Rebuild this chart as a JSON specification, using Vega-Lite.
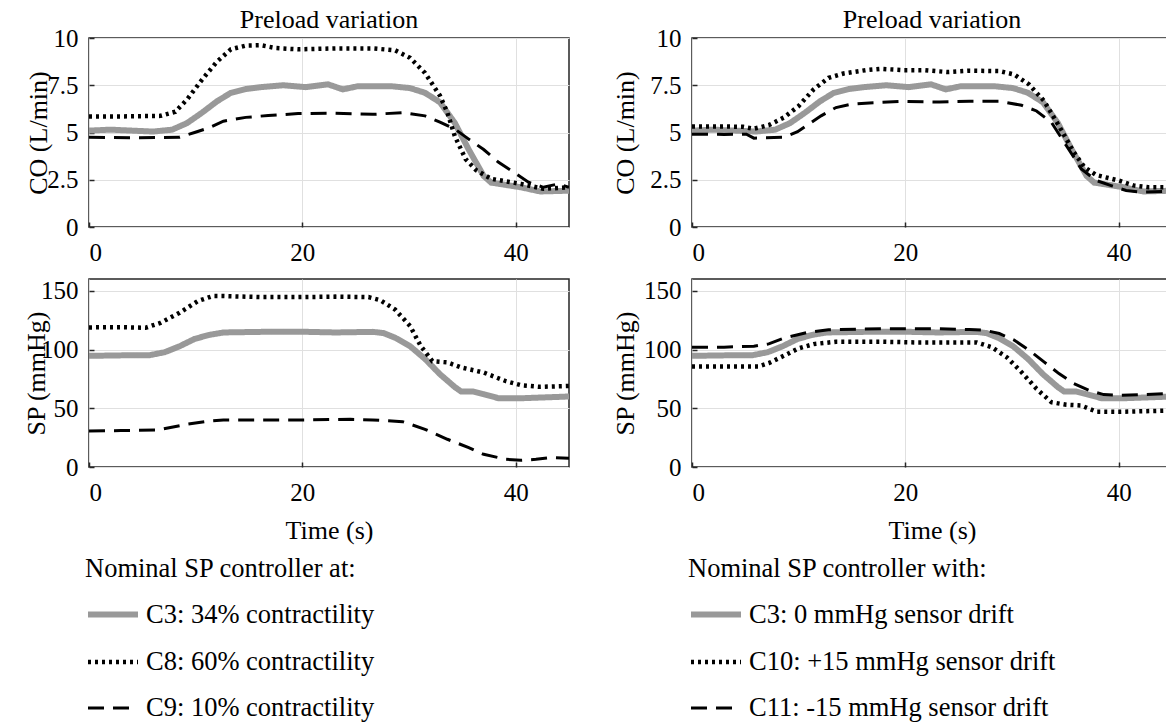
{
  "$schema": "https://vega.github.io/schema/vega-lite/v6.json",
  "autosize": {"type": "pad"},
  "padding": {"left": 22, "top": 6, "right": -7, "bottom": 0},
  "background": "white",
  "config": {
    "font": "Liberation Serif",
    "view": {"stroke": "#262626", "strokeWidth": 1.5},
    "axis": {
      "labelFont": "Liberation Serif", "labelFontSize": 25, "labelColor": "#000000",
      "titleFont": "Liberation Serif", "titleFontSize": 26, "titleFontWeight": "normal", "titleColor": "#000000",
      "domain": false, "tickColor": "#262626", "tickSize": -5, "tickWidth": 1.5,
      "grid": true, "gridColor": "#e0e0e0", "gridWidth": 1, "gridOpacity": 1
    },
    "axisX": {"labelPadding": 18, "labelAngle": 0, "titlePadding": 12},
    "axisY": {"labelPadding": 16},
    "title": {"font": "Liberation Serif", "fontSize": 26, "fontWeight": "normal", "color": "#000000", "offset": -7, "anchor": "middle"},
    "legend": {
      "titleFont": "Liberation Serif", "titleFontSize": 26.5, "titleFontWeight": "normal", "titleColor": "#000000", "titleLimit": 0,
      "labelFont": "Liberation Serif", "labelFontSize": 26.5, "labelColor": "#000000", "labelLimit": 0,
      "padding": 0, "symbolOffset": 0
    }
  },
  "datasets": {
    "coL": [
      {"s": "C3: 34% contractility", "t": 0, "v": 5.1}, {"s": "C3: 34% contractility", "t": 2, "v": 5.15}, {"s": "C3: 34% contractility", "t": 4, "v": 5.1}, {"s": "C3: 34% contractility", "t": 6, "v": 5.05}, {"s": "C3: 34% contractility", "t": 7.8, "v": 5.15}, {"s": "C3: 34% contractility", "t": 9.2, "v": 5.5}, {"s": "C3: 34% contractility", "t": 10.6, "v": 6.05}, {"s": "C3: 34% contractility", "t": 12, "v": 6.65}, {"s": "C3: 34% contractility", "t": 13.3, "v": 7.1}, {"s": "C3: 34% contractility", "t": 14.7, "v": 7.3}, {"s": "C3: 34% contractility", "t": 16.1, "v": 7.4}, {"s": "C3: 34% contractility", "t": 18.2, "v": 7.5}, {"s": "C3: 34% contractility", "t": 20.3, "v": 7.4}, {"s": "C3: 34% contractility", "t": 22.4, "v": 7.55}, {"s": "C3: 34% contractility", "t": 23.8, "v": 7.28}, {"s": "C3: 34% contractility", "t": 25.2, "v": 7.45}, {"s": "C3: 34% contractility", "t": 28.3, "v": 7.45}, {"s": "C3: 34% contractility", "t": 30.1, "v": 7.35}, {"s": "C3: 34% contractility", "t": 31.5, "v": 7.1}, {"s": "C3: 34% contractility", "t": 32.9, "v": 6.6}, {"s": "C3: 34% contractility", "t": 34.3, "v": 5.5}, {"s": "C3: 34% contractility", "t": 35.6, "v": 4.1}, {"s": "C3: 34% contractility", "t": 37, "v": 2.7}, {"s": "C3: 34% contractility", "t": 37.7, "v": 2.35}, {"s": "C3: 34% contractility", "t": 40.5, "v": 2.1}, {"s": "C3: 34% contractility", "t": 42.3, "v": 1.88}, {"s": "C3: 34% contractility", "t": 45, "v": 1.92},
      {"s": "C8: 60% contractility", "t": 0, "v": 5.85}, {"s": "C8: 60% contractility", "t": 3, "v": 5.85}, {"s": "C8: 60% contractility", "t": 6.7, "v": 5.88}, {"s": "C8: 60% contractility", "t": 8.1, "v": 6.1}, {"s": "C8: 60% contractility", "t": 9.2, "v": 6.75}, {"s": "C8: 60% contractility", "t": 10.6, "v": 7.8}, {"s": "C8: 60% contractility", "t": 12, "v": 8.75}, {"s": "C8: 60% contractility", "t": 13.3, "v": 9.4}, {"s": "C8: 60% contractility", "t": 14.7, "v": 9.6}, {"s": "C8: 60% contractility", "t": 16.1, "v": 9.62}, {"s": "C8: 60% contractility", "t": 17.5, "v": 9.47}, {"s": "C8: 60% contractility", "t": 19.6, "v": 9.4}, {"s": "C8: 60% contractility", "t": 23.1, "v": 9.45}, {"s": "C8: 60% contractility", "t": 26.6, "v": 9.45}, {"s": "C8: 60% contractility", "t": 28.7, "v": 9.35}, {"s": "C8: 60% contractility", "t": 30.1, "v": 8.95}, {"s": "C8: 60% contractility", "t": 31.5, "v": 8.15}, {"s": "C8: 60% contractility", "t": 32.9, "v": 6.95}, {"s": "C8: 60% contractility", "t": 33.6, "v": 6.05}, {"s": "C8: 60% contractility", "t": 34.3, "v": 4.8}, {"s": "C8: 60% contractility", "t": 35.3, "v": 3.6}, {"s": "C8: 60% contractility", "t": 36.3, "v": 3.0}, {"s": "C8: 60% contractility", "t": 37.7, "v": 2.55}, {"s": "C8: 60% contractility", "t": 40.5, "v": 2.28}, {"s": "C8: 60% contractility", "t": 42.6, "v": 2.02}, {"s": "C8: 60% contractility", "t": 45, "v": 2.1},
      {"s": "C9: 10% contractility", "t": 0, "v": 4.75}, {"s": "C9: 10% contractility", "t": 4, "v": 4.72}, {"s": "C9: 10% contractility", "t": 8.5, "v": 4.75}, {"s": "C9: 10% contractility", "t": 9.9, "v": 5.0}, {"s": "C9: 10% contractility", "t": 11.3, "v": 5.26}, {"s": "C9: 10% contractility", "t": 12.6, "v": 5.6}, {"s": "C9: 10% contractility", "t": 14.7, "v": 5.8}, {"s": "C9: 10% contractility", "t": 16.8, "v": 5.9}, {"s": "C9: 10% contractility", "t": 19.6, "v": 6.0}, {"s": "C9: 10% contractility", "t": 23.1, "v": 6.02}, {"s": "C9: 10% contractility", "t": 26.6, "v": 5.96}, {"s": "C9: 10% contractility", "t": 29.4, "v": 6.05}, {"s": "C9: 10% contractility", "t": 31.5, "v": 5.88}, {"s": "C9: 10% contractility", "t": 32.9, "v": 5.55}, {"s": "C9: 10% contractility", "t": 34.3, "v": 5.18}, {"s": "C9: 10% contractility", "t": 35.6, "v": 4.65}, {"s": "C9: 10% contractility", "t": 37, "v": 4.1}, {"s": "C9: 10% contractility", "t": 38.4, "v": 3.42}, {"s": "C9: 10% contractility", "t": 39.8, "v": 2.9}, {"s": "C9: 10% contractility", "t": 41.2, "v": 2.37}, {"s": "C9: 10% contractility", "t": 42.6, "v": 2.1}, {"s": "C9: 10% contractility", "t": 44, "v": 2.28}, {"s": "C9: 10% contractility", "t": 45, "v": 2.1}
    ],
    "spL": [
      {"s": "C3: 34% contractility", "t": 0, "v": 94.6}, {"s": "C3: 34% contractility", "t": 3, "v": 95}, {"s": "C3: 34% contractility", "t": 5.7, "v": 95.2}, {"s": "C3: 34% contractility", "t": 7.1, "v": 97.7}, {"s": "C3: 34% contractility", "t": 8.5, "v": 102.8}, {"s": "C3: 34% contractility", "t": 9.9, "v": 109}, {"s": "C3: 34% contractility", "t": 11.3, "v": 112.5}, {"s": "C3: 34% contractility", "t": 12.6, "v": 114.5}, {"s": "C3: 34% contractility", "t": 16.1, "v": 115}, {"s": "C3: 34% contractility", "t": 19.6, "v": 115.2}, {"s": "C3: 34% contractility", "t": 23.1, "v": 114.5}, {"s": "C3: 34% contractility", "t": 26.6, "v": 115}, {"s": "C3: 34% contractility", "t": 27.6, "v": 114}, {"s": "C3: 34% contractility", "t": 28.7, "v": 110}, {"s": "C3: 34% contractility", "t": 30.1, "v": 102.8}, {"s": "C3: 34% contractility", "t": 31.5, "v": 92}, {"s": "C3: 34% contractility", "t": 32.9, "v": 79}, {"s": "C3: 34% contractility", "t": 34.3, "v": 68}, {"s": "C3: 34% contractility", "t": 34.9, "v": 64.2}, {"s": "C3: 34% contractility", "t": 36, "v": 64.2}, {"s": "C3: 34% contractility", "t": 37, "v": 62}, {"s": "C3: 34% contractility", "t": 38.4, "v": 58.5}, {"s": "C3: 34% contractility", "t": 40.5, "v": 58.5}, {"s": "C3: 34% contractility", "t": 45, "v": 60},
      {"s": "C8: 60% contractility", "t": 0, "v": 118.8}, {"s": "C8: 60% contractility", "t": 3, "v": 119}, {"s": "C8: 60% contractility", "t": 5.3, "v": 118.5}, {"s": "C8: 60% contractility", "t": 6.7, "v": 122.7}, {"s": "C8: 60% contractility", "t": 8.5, "v": 131.3}, {"s": "C8: 60% contractility", "t": 10.2, "v": 141.2}, {"s": "C8: 60% contractility", "t": 11.6, "v": 145.5}, {"s": "C8: 60% contractility", "t": 12.6, "v": 145.5}, {"s": "C8: 60% contractility", "t": 16.1, "v": 144.6}, {"s": "C8: 60% contractility", "t": 19.6, "v": 144.6}, {"s": "C8: 60% contractility", "t": 23.1, "v": 145}, {"s": "C8: 60% contractility", "t": 26.2, "v": 144.6}, {"s": "C8: 60% contractility", "t": 27.3, "v": 142}, {"s": "C8: 60% contractility", "t": 28.7, "v": 134}, {"s": "C8: 60% contractility", "t": 30.1, "v": 120}, {"s": "C8: 60% contractility", "t": 31.1, "v": 103}, {"s": "C8: 60% contractility", "t": 32.2, "v": 90}, {"s": "C8: 60% contractility", "t": 33.6, "v": 89}, {"s": "C8: 60% contractility", "t": 34.9, "v": 84.7}, {"s": "C8: 60% contractility", "t": 37, "v": 80.4}, {"s": "C8: 60% contractility", "t": 39.1, "v": 73}, {"s": "C8: 60% contractility", "t": 40.5, "v": 69.6}, {"s": "C8: 60% contractility", "t": 42.3, "v": 68.2}, {"s": "C8: 60% contractility", "t": 45, "v": 69},
      {"s": "C9: 10% contractility", "t": 0, "v": 30.7}, {"s": "C9: 10% contractility", "t": 3, "v": 31}, {"s": "C9: 10% contractility", "t": 6.4, "v": 31.5}, {"s": "C9: 10% contractility", "t": 9.2, "v": 36.4}, {"s": "C9: 10% contractility", "t": 11.3, "v": 39.2}, {"s": "C9: 10% contractility", "t": 12.6, "v": 40}, {"s": "C9: 10% contractility", "t": 16.1, "v": 40}, {"s": "C9: 10% contractility", "t": 19.6, "v": 40}, {"s": "C9: 10% contractility", "t": 24.5, "v": 40.6}, {"s": "C9: 10% contractility", "t": 26.6, "v": 40}, {"s": "C9: 10% contractility", "t": 29.4, "v": 38.6}, {"s": "C9: 10% contractility", "t": 31.5, "v": 32.1}, {"s": "C9: 10% contractility", "t": 33.6, "v": 23.6}, {"s": "C9: 10% contractility", "t": 35.6, "v": 16.5}, {"s": "C9: 10% contractility", "t": 37, "v": 10.8}, {"s": "C9: 10% contractility", "t": 39.1, "v": 6.5}, {"s": "C9: 10% contractility", "t": 40.5, "v": 5.7}, {"s": "C9: 10% contractility", "t": 41.9, "v": 6.5}, {"s": "C9: 10% contractility", "t": 43.3, "v": 8}, {"s": "C9: 10% contractility", "t": 45, "v": 7.4}
    ],
    "coR": [
      {"s": "C3: 0 mmHg sensor drift", "t": 0, "v": 5.1}, {"s": "C3: 0 mmHg sensor drift", "t": 2, "v": 5.15}, {"s": "C3: 0 mmHg sensor drift", "t": 4, "v": 5.1}, {"s": "C3: 0 mmHg sensor drift", "t": 6, "v": 5.05}, {"s": "C3: 0 mmHg sensor drift", "t": 7.8, "v": 5.15}, {"s": "C3: 0 mmHg sensor drift", "t": 9.2, "v": 5.5}, {"s": "C3: 0 mmHg sensor drift", "t": 10.6, "v": 6.05}, {"s": "C3: 0 mmHg sensor drift", "t": 12, "v": 6.65}, {"s": "C3: 0 mmHg sensor drift", "t": 13.3, "v": 7.1}, {"s": "C3: 0 mmHg sensor drift", "t": 14.7, "v": 7.3}, {"s": "C3: 0 mmHg sensor drift", "t": 16.1, "v": 7.4}, {"s": "C3: 0 mmHg sensor drift", "t": 18.2, "v": 7.5}, {"s": "C3: 0 mmHg sensor drift", "t": 20.3, "v": 7.4}, {"s": "C3: 0 mmHg sensor drift", "t": 22.4, "v": 7.55}, {"s": "C3: 0 mmHg sensor drift", "t": 23.8, "v": 7.28}, {"s": "C3: 0 mmHg sensor drift", "t": 25.2, "v": 7.45}, {"s": "C3: 0 mmHg sensor drift", "t": 28.3, "v": 7.45}, {"s": "C3: 0 mmHg sensor drift", "t": 30.1, "v": 7.35}, {"s": "C3: 0 mmHg sensor drift", "t": 31.5, "v": 7.1}, {"s": "C3: 0 mmHg sensor drift", "t": 32.9, "v": 6.6}, {"s": "C3: 0 mmHg sensor drift", "t": 34.3, "v": 5.5}, {"s": "C3: 0 mmHg sensor drift", "t": 35.6, "v": 4.1}, {"s": "C3: 0 mmHg sensor drift", "t": 37, "v": 2.7}, {"s": "C3: 0 mmHg sensor drift", "t": 37.7, "v": 2.35}, {"s": "C3: 0 mmHg sensor drift", "t": 40.5, "v": 2.1}, {"s": "C3: 0 mmHg sensor drift", "t": 42.3, "v": 1.88}, {"s": "C3: 0 mmHg sensor drift", "t": 45, "v": 1.92},
      {"s": "C10: +15 mmHg sensor drift", "t": 0, "v": 5.32}, {"s": "C10: +15 mmHg sensor drift", "t": 3, "v": 5.32}, {"s": "C10: +15 mmHg sensor drift", "t": 4.8, "v": 5.3}, {"s": "C10: +15 mmHg sensor drift", "t": 5.8, "v": 5.2}, {"s": "C10: +15 mmHg sensor drift", "t": 7.2, "v": 5.39}, {"s": "C10: +15 mmHg sensor drift", "t": 8.6, "v": 5.79}, {"s": "C10: +15 mmHg sensor drift", "t": 10, "v": 6.4}, {"s": "C10: +15 mmHg sensor drift", "t": 11.4, "v": 7.28}, {"s": "C10: +15 mmHg sensor drift", "t": 12.8, "v": 7.89}, {"s": "C10: +15 mmHg sensor drift", "t": 14.2, "v": 8.12}, {"s": "C10: +15 mmHg sensor drift", "t": 16.3, "v": 8.3}, {"s": "C10: +15 mmHg sensor drift", "t": 17.7, "v": 8.37}, {"s": "C10: +15 mmHg sensor drift", "t": 19.8, "v": 8.3}, {"s": "C10: +15 mmHg sensor drift", "t": 21.8, "v": 8.3}, {"s": "C10: +15 mmHg sensor drift", "t": 23.9, "v": 8.2}, {"s": "C10: +15 mmHg sensor drift", "t": 26, "v": 8.27}, {"s": "C10: +15 mmHg sensor drift", "t": 28.8, "v": 8.25}, {"s": "C10: +15 mmHg sensor drift", "t": 30.2, "v": 8.07}, {"s": "C10: +15 mmHg sensor drift", "t": 31.6, "v": 7.54}, {"s": "C10: +15 mmHg sensor drift", "t": 33, "v": 6.67}, {"s": "C10: +15 mmHg sensor drift", "t": 34.4, "v": 5.35}, {"s": "C10: +15 mmHg sensor drift", "t": 35.8, "v": 3.95}, {"s": "C10: +15 mmHg sensor drift", "t": 36.8, "v": 3.16}, {"s": "C10: +15 mmHg sensor drift", "t": 37.9, "v": 2.75}, {"s": "C10: +15 mmHg sensor drift", "t": 40, "v": 2.46}, {"s": "C10: +15 mmHg sensor drift", "t": 41.4, "v": 2.2}, {"s": "C10: +15 mmHg sensor drift", "t": 42.8, "v": 2.1}, {"s": "C10: +15 mmHg sensor drift", "t": 45, "v": 2.1},
      {"s": "C11: -15 mmHg sensor drift", "t": 0, "v": 4.91}, {"s": "C11: -15 mmHg sensor drift", "t": 3, "v": 4.9}, {"s": "C11: -15 mmHg sensor drift", "t": 5.1, "v": 4.91}, {"s": "C11: -15 mmHg sensor drift", "t": 5.8, "v": 4.7}, {"s": "C11: -15 mmHg sensor drift", "t": 8.6, "v": 4.75}, {"s": "C11: -15 mmHg sensor drift", "t": 9.9, "v": 5.04}, {"s": "C11: -15 mmHg sensor drift", "t": 10.7, "v": 5.35}, {"s": "C11: -15 mmHg sensor drift", "t": 12.1, "v": 5.88}, {"s": "C11: -15 mmHg sensor drift", "t": 13.5, "v": 6.32}, {"s": "C11: -15 mmHg sensor drift", "t": 14.9, "v": 6.49}, {"s": "C11: -15 mmHg sensor drift", "t": 17, "v": 6.58}, {"s": "C11: -15 mmHg sensor drift", "t": 19.8, "v": 6.65}, {"s": "C11: -15 mmHg sensor drift", "t": 23.2, "v": 6.61}, {"s": "C11: -15 mmHg sensor drift", "t": 26, "v": 6.65}, {"s": "C11: -15 mmHg sensor drift", "t": 28.8, "v": 6.65}, {"s": "C11: -15 mmHg sensor drift", "t": 30.9, "v": 6.44}, {"s": "C11: -15 mmHg sensor drift", "t": 32.3, "v": 6.14}, {"s": "C11: -15 mmHg sensor drift", "t": 33.7, "v": 5.53}, {"s": "C11: -15 mmHg sensor drift", "t": 35.1, "v": 4.3}, {"s": "C11: -15 mmHg sensor drift", "t": 36.5, "v": 3.07}, {"s": "C11: -15 mmHg sensor drift", "t": 37.9, "v": 2.46}, {"s": "C11: -15 mmHg sensor drift", "t": 39.3, "v": 2.19}, {"s": "C11: -15 mmHg sensor drift", "t": 40.7, "v": 1.93}, {"s": "C11: -15 mmHg sensor drift", "t": 42.1, "v": 1.84}, {"s": "C11: -15 mmHg sensor drift", "t": 45, "v": 1.9}
    ],
    "spR": [
      {"s": "C3: 0 mmHg sensor drift", "t": 0, "v": 94.6}, {"s": "C3: 0 mmHg sensor drift", "t": 3, "v": 95}, {"s": "C3: 0 mmHg sensor drift", "t": 5.7, "v": 95.2}, {"s": "C3: 0 mmHg sensor drift", "t": 7.1, "v": 97.7}, {"s": "C3: 0 mmHg sensor drift", "t": 8.5, "v": 102.8}, {"s": "C3: 0 mmHg sensor drift", "t": 9.9, "v": 109}, {"s": "C3: 0 mmHg sensor drift", "t": 11.3, "v": 112.5}, {"s": "C3: 0 mmHg sensor drift", "t": 12.6, "v": 114.5}, {"s": "C3: 0 mmHg sensor drift", "t": 16.1, "v": 115}, {"s": "C3: 0 mmHg sensor drift", "t": 19.6, "v": 115.2}, {"s": "C3: 0 mmHg sensor drift", "t": 23.1, "v": 114.5}, {"s": "C3: 0 mmHg sensor drift", "t": 26.6, "v": 115}, {"s": "C3: 0 mmHg sensor drift", "t": 27.6, "v": 114}, {"s": "C3: 0 mmHg sensor drift", "t": 28.7, "v": 110}, {"s": "C3: 0 mmHg sensor drift", "t": 30.1, "v": 102.8}, {"s": "C3: 0 mmHg sensor drift", "t": 31.5, "v": 92}, {"s": "C3: 0 mmHg sensor drift", "t": 32.9, "v": 79}, {"s": "C3: 0 mmHg sensor drift", "t": 34.3, "v": 68}, {"s": "C3: 0 mmHg sensor drift", "t": 34.9, "v": 64.2}, {"s": "C3: 0 mmHg sensor drift", "t": 36, "v": 64.2}, {"s": "C3: 0 mmHg sensor drift", "t": 37, "v": 62}, {"s": "C3: 0 mmHg sensor drift", "t": 38.4, "v": 58.5}, {"s": "C3: 0 mmHg sensor drift", "t": 40.5, "v": 58.5}, {"s": "C3: 0 mmHg sensor drift", "t": 45, "v": 60},
      {"s": "C10: +15 mmHg sensor drift", "t": 0, "v": 85.5}, {"s": "C10: +15 mmHg sensor drift", "t": 3, "v": 85.5}, {"s": "C10: +15 mmHg sensor drift", "t": 6.2, "v": 85.5}, {"s": "C10: +15 mmHg sensor drift", "t": 7.2, "v": 88.4}, {"s": "C10: +15 mmHg sensor drift", "t": 8.6, "v": 94.6}, {"s": "C10: +15 mmHg sensor drift", "t": 10, "v": 101}, {"s": "C10: +15 mmHg sensor drift", "t": 11.4, "v": 104.6}, {"s": "C10: +15 mmHg sensor drift", "t": 13.5, "v": 106.6}, {"s": "C10: +15 mmHg sensor drift", "t": 17.7, "v": 106.6}, {"s": "C10: +15 mmHg sensor drift", "t": 21.1, "v": 106}, {"s": "C10: +15 mmHg sensor drift", "t": 24.6, "v": 106}, {"s": "C10: +15 mmHg sensor drift", "t": 26.7, "v": 106}, {"s": "C10: +15 mmHg sensor drift", "t": 28.1, "v": 102}, {"s": "C10: +15 mmHg sensor drift", "t": 29.5, "v": 93.5}, {"s": "C10: +15 mmHg sensor drift", "t": 30.9, "v": 80.7}, {"s": "C10: +15 mmHg sensor drift", "t": 32.3, "v": 66.5}, {"s": "C10: +15 mmHg sensor drift", "t": 33.7, "v": 55.1}, {"s": "C10: +15 mmHg sensor drift", "t": 35.1, "v": 53}, {"s": "C10: +15 mmHg sensor drift", "t": 36.5, "v": 52.3}, {"s": "C10: +15 mmHg sensor drift", "t": 37.9, "v": 47.1}, {"s": "C10: +15 mmHg sensor drift", "t": 40, "v": 47}, {"s": "C10: +15 mmHg sensor drift", "t": 45, "v": 48},
      {"s": "C11: -15 mmHg sensor drift", "t": 0, "v": 102}, {"s": "C11: -15 mmHg sensor drift", "t": 3, "v": 102}, {"s": "C11: -15 mmHg sensor drift", "t": 5.8, "v": 102.8}, {"s": "C11: -15 mmHg sensor drift", "t": 7.2, "v": 104.8}, {"s": "C11: -15 mmHg sensor drift", "t": 8.6, "v": 109.7}, {"s": "C11: -15 mmHg sensor drift", "t": 10.7, "v": 114.2}, {"s": "C11: -15 mmHg sensor drift", "t": 12.8, "v": 116.8}, {"s": "C11: -15 mmHg sensor drift", "t": 17.7, "v": 117.6}, {"s": "C11: -15 mmHg sensor drift", "t": 23.2, "v": 117.6}, {"s": "C11: -15 mmHg sensor drift", "t": 26, "v": 117}, {"s": "C11: -15 mmHg sensor drift", "t": 27.4, "v": 116.5}, {"s": "C11: -15 mmHg sensor drift", "t": 28.8, "v": 113.6}, {"s": "C11: -15 mmHg sensor drift", "t": 30.2, "v": 108}, {"s": "C11: -15 mmHg sensor drift", "t": 31.6, "v": 99.4}, {"s": "C11: -15 mmHg sensor drift", "t": 33, "v": 89.5}, {"s": "C11: -15 mmHg sensor drift", "t": 34.4, "v": 79.5}, {"s": "C11: -15 mmHg sensor drift", "t": 35.8, "v": 71}, {"s": "C11: -15 mmHg sensor drift", "t": 37.2, "v": 65.3}, {"s": "C11: -15 mmHg sensor drift", "t": 38.6, "v": 61.6}, {"s": "C11: -15 mmHg sensor drift", "t": 40, "v": 61}, {"s": "C11: -15 mmHg sensor drift", "t": 45, "v": 62.5}
    ]
  },
  "columns": 2,
  "spacing": {"row": 52, "column": 123},
  "bounds": "flush",
  "resolve": {"scale": {"x": "independent", "y": "independent", "color": "independent", "strokeDash": "independent", "strokeWidth": "independent"}, "legend": {"color": "independent", "strokeDash": "independent", "strokeWidth": "independent"}},
  "concat": [
    {
      "width": 480, "height": 189,
      "title": "Preload variation",
      "data": {"name": "coL"},
      "mark": {"type": "line", "clip": true},
      "encoding": {
        "x": {"field": "t", "type": "quantitative", "scale": {"domain": [0, 45], "nice": false, "zero": false}, "axis": {"values": [0, 20, 40], "title": null}},
        "y": {"field": "v", "type": "quantitative", "scale": {"domain": [0, 10], "nice": false}, "axis": {"values": [0, 2.5, 5, 7.5, 10], "format": ".1~f", "title": "CO (L/min)", "titleX": -51, "titleBaseline": "middle"}},
        "color": {"field": "s", "type": "nominal", "scale": {"domain": ["C3: 34% contractility", "C8: 60% contractility", "C9: 10% contractility"], "range": ["#999999", "#000000", "#000000"]}, "legend": null},
        "strokeDash": {"field": "s", "type": "nominal", "scale": {"domain": ["C3: 34% contractility", "C8: 60% contractility", "C9: 10% contractility"], "range": [[1, 0], [3, 4], [16, 9]]}, "legend": null},
        "strokeWidth": {"field": "s", "type": "nominal", "scale": {"domain": ["C3: 34% contractility", "C8: 60% contractility", "C9: 10% contractility"], "range": [6, 3, 3]}, "legend": null}
      }
    },
    {
      "width": 480, "height": 189,
      "title": "Preload variation",
      "data": {"name": "coR"},
      "mark": {"type": "line", "clip": true},
      "encoding": {
        "x": {"field": "t", "type": "quantitative", "scale": {"domain": [0, 45], "nice": false, "zero": false}, "axis": {"values": [0, 20, 40], "title": null}},
        "y": {"field": "v", "type": "quantitative", "scale": {"domain": [0, 10], "nice": false}, "axis": {"values": [0, 2.5, 5, 7.5, 10], "format": ".1~f", "title": "CO (L/min)", "titleX": -67, "titleBaseline": "middle"}},
        "color": {"field": "s", "type": "nominal", "scale": {"domain": ["C3: 0 mmHg sensor drift", "C10: +15 mmHg sensor drift", "C11: -15 mmHg sensor drift"], "range": ["#999999", "#000000", "#000000"]}, "legend": null},
        "strokeDash": {"field": "s", "type": "nominal", "scale": {"domain": ["C3: 0 mmHg sensor drift", "C10: +15 mmHg sensor drift", "C11: -15 mmHg sensor drift"], "range": [[1, 0], [3, 4], [16, 9]]}, "legend": null},
        "strokeWidth": {"field": "s", "type": "nominal", "scale": {"domain": ["C3: 0 mmHg sensor drift", "C10: +15 mmHg sensor drift", "C11: -15 mmHg sensor drift"], "range": [6, 3, 3]}, "legend": null}
      }
    },
    {
      "width": 480, "height": 188,
      "data": {"name": "spL"},
      "mark": {"type": "line", "clip": true},
      "encoding": {
        "x": {"field": "t", "type": "quantitative", "scale": {"domain": [0, 45], "nice": false, "zero": false}, "axis": {"values": [0, 20, 40], "title": "Time (s)"}},
        "y": {"field": "v", "type": "quantitative", "scale": {"domain": [0, 160], "nice": false}, "axis": {"values": [0, 50, 100, 150], "title": "SP (mmHg)", "titleX": -53, "titleBaseline": "middle"}},
        "color": {"field": "s", "type": "nominal", "scale": {"domain": ["C3: 34% contractility", "C8: 60% contractility", "C9: 10% contractility"], "range": ["#999999", "#000000", "#000000"]},
          "legend": {"orient": "none", "legendX": -4, "legendY": 277, "title": "Nominal SP controller at:", "symbolType": "stroke", "symbolSize": 2500, "labelOffset": 5, "rowPadding": 6, "titlePadding": 4}},
        "strokeDash": {"field": "s", "type": "nominal", "scale": {"domain": ["C3: 34% contractility", "C8: 60% contractility", "C9: 10% contractility"], "range": [[1, 0], [3, 4], [16, 9]]},
          "legend": {"orient": "none", "legendX": -4, "legendY": 277, "title": "Nominal SP controller at:", "symbolType": "stroke", "symbolSize": 2500, "labelOffset": 5, "rowPadding": 6, "titlePadding": 4}},
        "strokeWidth": {"field": "s", "type": "nominal", "scale": {"domain": ["C3: 34% contractility", "C8: 60% contractility", "C9: 10% contractility"], "range": [6, 3, 3]},
          "legend": {"orient": "none", "legendX": -4, "legendY": 277, "title": "Nominal SP controller at:", "symbolType": "stroke", "symbolSize": 2500, "labelOffset": 5, "rowPadding": 6, "titlePadding": 4}}
      }
    },
    {
      "width": 480, "height": 188,
      "data": {"name": "spR"},
      "mark": {"type": "line", "clip": true},
      "encoding": {
        "x": {"field": "t", "type": "quantitative", "scale": {"domain": [0, 45], "nice": false, "zero": false}, "axis": {"values": [0, 20, 40], "title": "Time (s)"}},
        "y": {"field": "v", "type": "quantitative", "scale": {"domain": [0, 160], "nice": false}, "axis": {"values": [0, 50, 100, 150], "title": "SP (mmHg)", "titleX": -67, "titleBaseline": "middle"}},
        "color": {"field": "s", "type": "nominal", "scale": {"domain": ["C3: 0 mmHg sensor drift", "C10: +15 mmHg sensor drift", "C11: -15 mmHg sensor drift"], "range": ["#999999", "#000000", "#000000"]},
          "legend": {"orient": "none", "legendX": -4, "legendY": 277, "title": "Nominal SP controller with:", "symbolType": "stroke", "symbolSize": 2500, "labelOffset": 5, "rowPadding": 6, "titlePadding": 4}},
        "strokeDash": {"field": "s", "type": "nominal", "scale": {"domain": ["C3: 0 mmHg sensor drift", "C10: +15 mmHg sensor drift", "C11: -15 mmHg sensor drift"], "range": [[1, 0], [3, 4], [16, 9]]},
          "legend": {"orient": "none", "legendX": -4, "legendY": 277, "title": "Nominal SP controller with:", "symbolType": "stroke", "symbolSize": 2500, "labelOffset": 5, "rowPadding": 6, "titlePadding": 4}},
        "strokeWidth": {"field": "s", "type": "nominal", "scale": {"domain": ["C3: 0 mmHg sensor drift", "C10: +15 mmHg sensor drift", "C11: -15 mmHg sensor drift"], "range": [6, 3, 3]},
          "legend": {"orient": "none", "legendX": -4, "legendY": 277, "title": "Nominal SP controller with:", "symbolType": "stroke", "symbolSize": 2500, "labelOffset": 5, "rowPadding": 6, "titlePadding": 4}}
      }
    }
  ]
}
